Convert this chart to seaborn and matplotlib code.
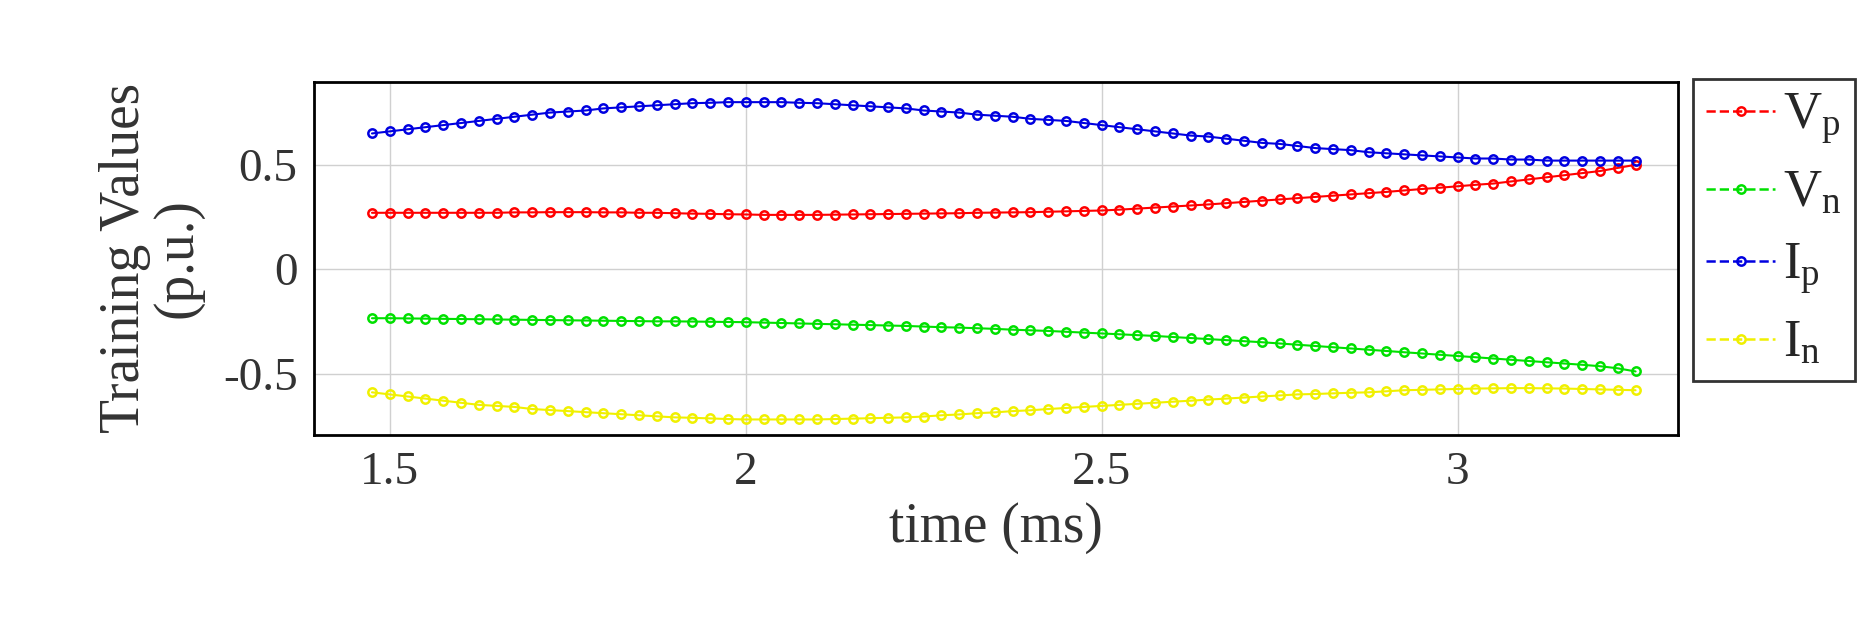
import numpy as np
import matplotlib
matplotlib.use("Agg")
import matplotlib.pyplot as plt
import seaborn as sns
import pandas as pd

Ip = [.65,.66,.67,.68,.69,.70,.71,.72,.73,.74,.75,.755,.76,.77,.775,.78,.785,.79,.795,.797,.80,.80,.80,.80,.797,.795,.79,.785,.78,.775,.77,.76,.755,.75,.74,.735,.73,.72,.715,.71,.70,.69,.68,.67,.66,.65,.64,.635,.625,.615,.605,.60,.59,.58,.575,.57,.56,.555,.55,.545,.54,.535,.53,.53,.525,.525,.52,.52,.52,.52,.52,.52]
Vp = [.27,.27,.27,.27,.27,.27,.27,.27,.272,.272,.273,.273,.273,.272,.272,.27,.27,.268,.266,.265,.263,.262,.26,.26,.26,.26,.261,.262,.263,.264,.265,.266,.267,.268,.27,.271,.272,.273,.275,.277,.279,.281,.285,.29,.295,.30,.305,.31,.316,.322,.328,.334,.34,.346,.352,.358,.364,.37,.377,.384,.39,.397,.404,.41,.42,.43,.44,.45,.46,.47,.485,.50]
Vn = [-.235,-.235,-.236,-.237,-.238,-.239,-.24,-.241,-.242,-.243,-.244,-.245,-.246,-.247,-.248,-.249,-.25,-.25,-.251,-.252,-.253,-.254,-.256,-.258,-.26,-.262,-.264,-.266,-.268,-.27,-.272,-.275,-.278,-.28,-.283,-.286,-.29,-.293,-.296,-.30,-.304,-.308,-.312,-.316,-.32,-.325,-.33,-.335,-.34,-.345,-.35,-.356,-.362,-.368,-.374,-.38,-.386,-.392,-.398,-.404,-.41,-.416,-.422,-.428,-.434,-.44,-.446,-.452,-.458,-.465,-.475,-.49]
In = [-.59,-.60,-.61,-.62,-.63,-.64,-.65,-.655,-.66,-.67,-.675,-.68,-.685,-.69,-.695,-.70,-.705,-.71,-.712,-.715,-.718,-.72,-.72,-.72,-.72,-.72,-.718,-.716,-.714,-.712,-.71,-.706,-.70,-.696,-.69,-.686,-.68,-.676,-.67,-.665,-.66,-.655,-.65,-.645,-.64,-.635,-.63,-.625,-.62,-.615,-.61,-.605,-.60,-.598,-.595,-.592,-.59,-.585,-.58,-.578,-.576,-.574,-.572,-.571,-.57,-.57,-.571,-.572,-.574,-.576,-.578,-.58]

series = [("V_p", Vp, "#ff0000"), ("V_n", Vn, "#00e000"), ("I_p", Ip, "#0000e0"), ("I_n", In, "#f0f000")]

sns.set_style("white")
plt.rcParams['font.family'] = ['Liberation Serif', 'DejaVu Serif']
plt.rcParams['mathtext.fontset'] = 'custom'
plt.rcParams['mathtext.rm'] = 'Liberation Serif'

fig = plt.figure(figsize=(18.71, 6.3), dpi=100)
ax = fig.add_axes([0.168, 0.31, 0.729, 0.56])
handles = []
for name, vals, c in series:
    df = pd.DataFrame({"t": np.linspace(1.475, 3.25, len(vals)), "v": vals})
    sns.lineplot(data=df, x="t", y="v", ax=ax, color=c, linewidth=1.5, marker="o",
                 markersize=6, markerfacecolor="none", markeredgecolor=c, markeredgewidth=1.8)
    h, = ax.plot([], [], color=c, linestyle="--", marker="o", markersize=6,
                 markerfacecolor="none", markeredgewidth=1.8, linewidth=1.8)
    handles.append((h, r"$\mathregular{%s}$" % name))

ax.set_xlim(1.394, 3.31)
ax.set_ylim(-0.793, 0.897)
ax.set_xticks([1.5, 2, 2.5, 3])
ax.set_xticklabels(["1.5", "2", "2.5", "3"])
ax.set_yticks([-0.5, 0, 0.5])
ax.set_yticklabels(["-0.5", "0", "0.5"])
ax.grid(True, color="#d0d0d0", linewidth=1)
ax.tick_params(direction="in", labelsize=34, length=6, width=1.2, pad=12, colors="#333333")
for s in ax.spines.values():
    s.set_color("black"); s.set_linewidth(2)
ax.set_xlabel("time (ms)", fontsize=40, color="#333333", labelpad=6)
ax.set_ylabel("Training Values\n(p.u.)", fontsize=40, color="#333333", linespacing=1.0, labelpad=14)

leg = fig.legend([h for h, _ in handles], [l for _, l in handles], loc="upper left",
                 bbox_to_anchor=(0.905, 0.875), fontsize=38, frameon=True, fancybox=False,
                 handlelength=1.3, handletextpad=0.15, labelspacing=0.45, borderpad=0.25,
                 borderaxespad=0)
leg.get_frame().set_edgecolor("black")
leg.get_frame().set_linewidth(2)
fig.savefig("out.png", dpi=100)
